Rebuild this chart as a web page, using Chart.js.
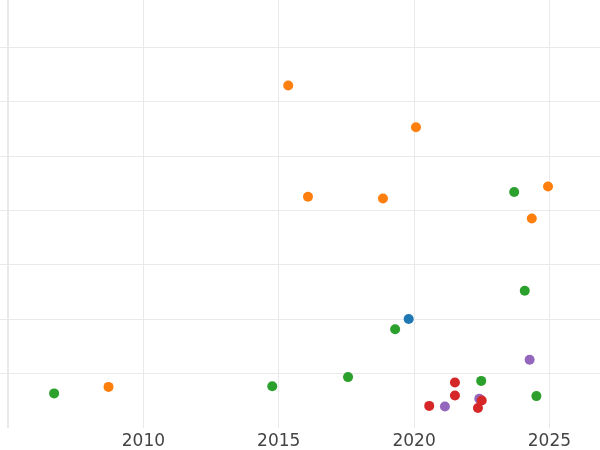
<!DOCTYPE html>
<html>
<head>
<meta charset="utf-8">
<script src="https://cdn.jsdelivr.net/npm/chart.js@4/dist/chart.umd.min.js"></script>
<style>
  html, body { margin: 0; padding: 0; background: #ffffff; }
</style>
</head>
<body>
<canvas id="scatter-chart" width="600" height="450"></canvas>
<script>
const X_TICKS = [2005, 2010, 2015, 2020, 2025];
const Y_TICKS = [1, 2, 3, 4, 5, 6, 7];

const seriesNames = ['Blue', 'Orange', 'Green', 'Red', 'Purple'];
const seriesColors = ['#1f77b4', '#ff7f0e', '#2ca02c', '#d62728', '#9467bd'];

const blueX = [2019.80];
const blueY = [2.00];

const orangeX = [2015.35, 2020.07, 2016.08, 2018.85, 2024.95, 2024.35, 2008.71];
const orangeY = [6.30, 5.53, 4.25, 4.22, 4.44, 3.85, 0.75];

const greenX = [2006.70, 2014.76, 2017.56, 2019.30, 2023.70, 2024.09, 2022.48, 2024.52];
const greenY = [0.63, 0.76, 0.93, 1.81, 4.34, 2.52, 0.86, 0.58];

const redX = [2021.51, 2021.51, 2020.56, 2022.50, 2022.36];
const redY = [0.83, 0.59, 0.40, 0.50, 0.36];

const purpleX = [2021.14, 2022.41, 2024.27];
const purpleY = [0.39, 0.53, 1.25];

const allX = [blueX, orangeX, greenX, redX, purpleX];
const allY = [blueY, orangeY, greenY, redY, purpleY];

const toPoints = (xs, ys) => xs.map((x, i) => ({ x: x, y: ys[i] }));

const buildDatasets = () => seriesNames.map((name, i) => ({
  label: name,
  data: toPoints(allX[i], allY[i]),
  backgroundColor: seriesColors[i],
  borderColor: seriesColors[i],
  borderWidth: 0,
  pointRadius: 5,
  pointHoverRadius: 5
}));

const initializeChart = () => {
  const ctx = document.getElementById('scatter-chart');
  if (!ctx) return;

  new Chart(ctx, {
    type: 'scatter',
    data: { datasets: buildDatasets() },
    options: {
      responsive: false,
      animation: false,
      layout: { padding: 0, autoPadding: false },
      scales: {
        x: {
          type: 'linear',
          min: 2004.70,
          max: 2026.87,
          afterBuildTicks: (axis) => {
            axis.ticks = X_TICKS.map(v => ({ value: v }));
          },
          afterFit: (axis) => {
            axis.height = 22.4;
          },
          ticks: {
            color: '#444444',
            padding: 3.5,
            maxRotation: 0,
            font: { family: "'DejaVu Sans', sans-serif", size: 17 },
            callback: (value) => value === 2005 ? '' : String(value)
          },
          grid: {
            color: '#e9e9e9',
            lineWidth: (c) => c.tick && c.tick.value === 2005 ? 2 : 1,
            drawTicks: false
          },
          border: { display: false }
        },
        y: {
          type: 'linear',
          min: 0,
          max: 7.875,
          afterBuildTicks: (axis) => {
            axis.ticks = Y_TICKS.map(v => ({ value: v }));
          },
          ticks: { display: false },
          grid: {
            color: '#e9e9e9',
            lineWidth: 1,
            drawTicks: false
          },
          border: { display: false }
        }
      },
      plugins: {
        legend: { display: false },
        tooltip: { enabled: false }
      }
    }
  });
};

document.addEventListener('DOMContentLoaded', () => {
  initializeChart();
});
</script>
</body>
</html>
